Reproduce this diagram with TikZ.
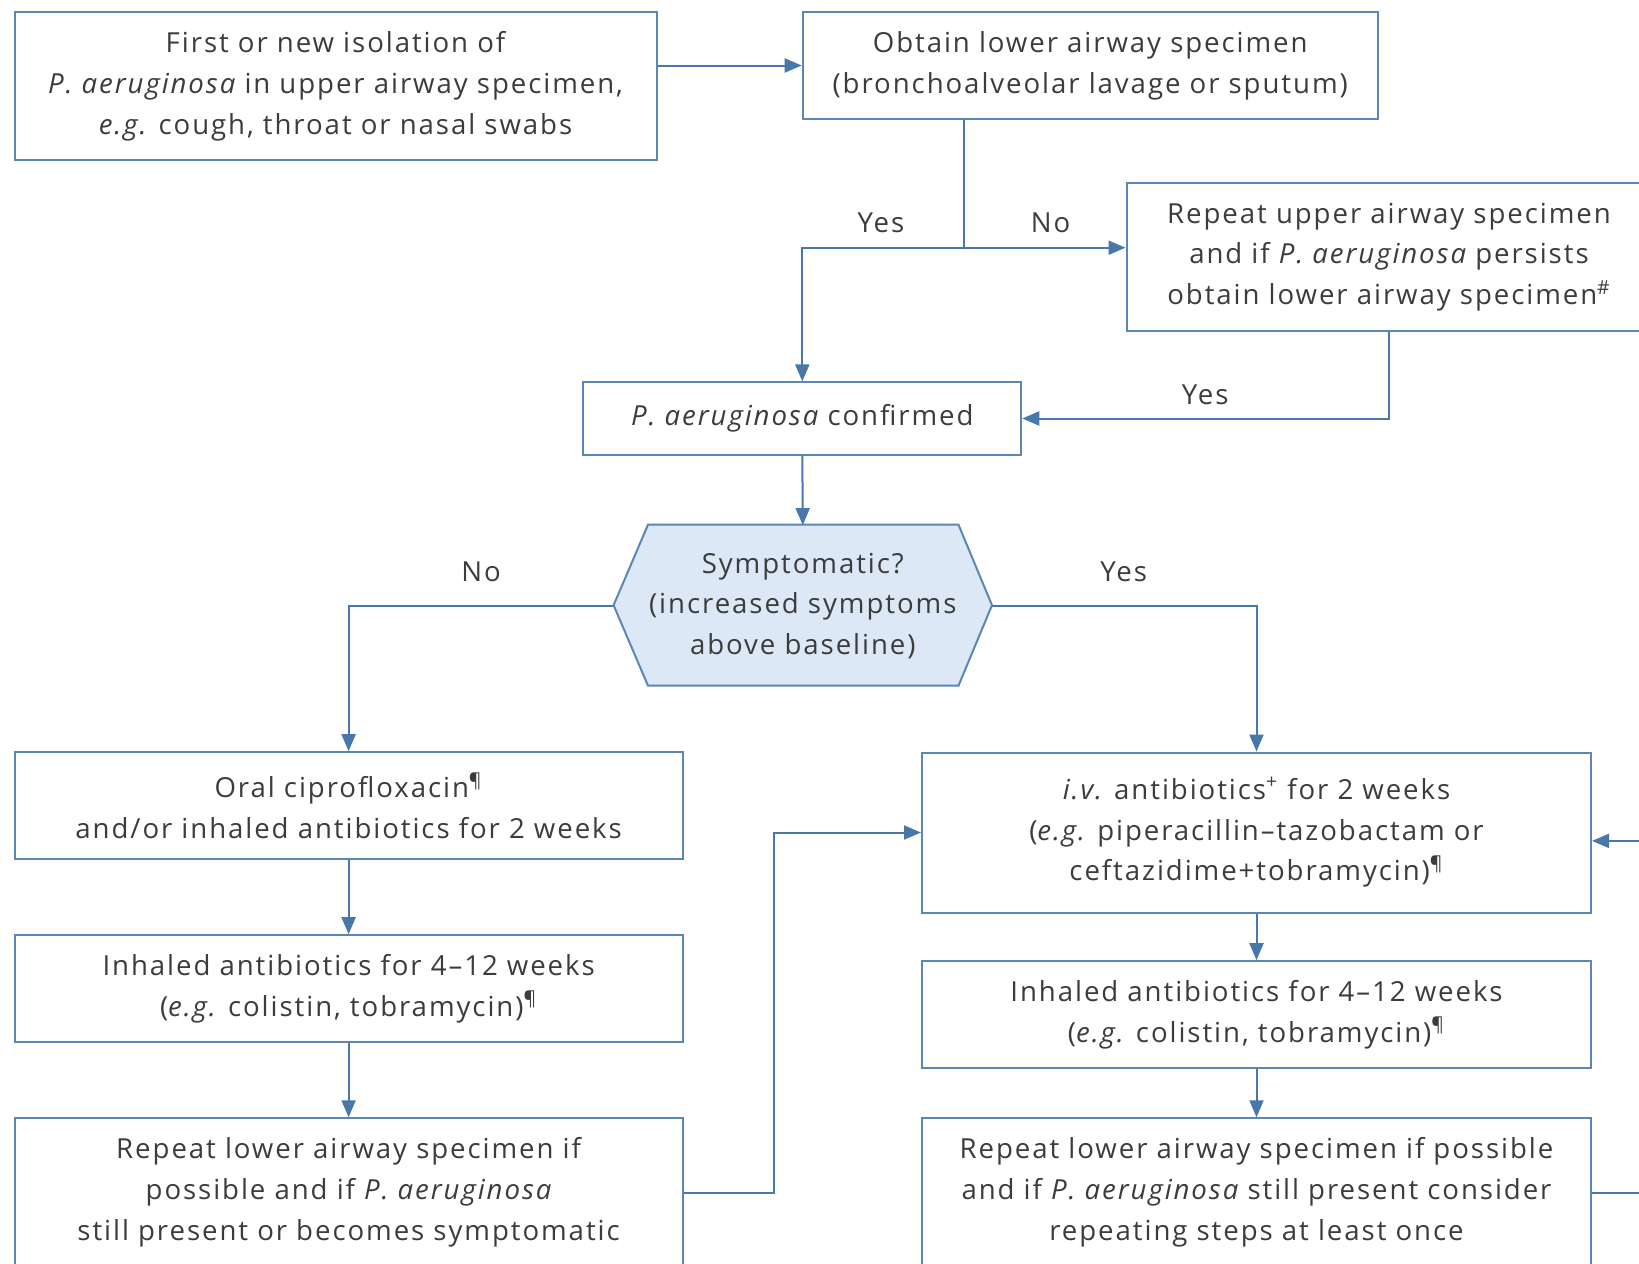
\documentclass[tikz,border=0pt]{standalone}
\usepackage{fontspec}
\setmainfont{Open Sans}[LetterSpace=7]
\usetikzlibrary{positioning,arrows.meta}

\definecolor{flowline}{RGB}{72,120,170}
\definecolor{boxline}{RGB}{92,135,180}
\definecolor{hexfill}{RGB}{220,232,245}
\definecolor{textgrey}{RGB}{60,60,60}

\newcommand{\pa}{{\itshape P. aeruginosa}}
\newcommand{\eg}{{\itshape e.g.}}

\begin{document}
\begin{tikzpicture}[x=0.5pt,y=-0.5pt,
  font=\fontsize{13.8}{20.4}\selectfont, text=textgrey,
  box/.style={draw=boxline, line width=1pt, fill=white, align=center, inner sep=0pt},
  lbl/.style={inner sep=1pt},
  link/.style={draw=flowline, line width=1pt},
  arr/.style={link, -{Triangle[length=8.5pt,width=7pt]}}]
\useasboundingbox (0,0) rectangle (1639,1264);

% top row
\node[box, minimum width=321pt, minimum height=73.7pt] (first) at (335.5,86)
  {First or new isolation of\\ \pa{} in upper airway specimen,\\ \eg{} cough, throat or nasal swabs};
\node[box, minimum width=287.5pt, minimum height=53.3pt] (lower) at (1090.2,65.5)
  {Obtain lower airway specimen\\ (bronchoalveolar lavage or sputum)};
\node[box, minimum width=262.5pt, minimum height=74.2pt] (upper) at (1389,257)
  {Repeat upper airway specimen\\ and if \pa{} persists\\ obtain lower airway specimen\textsuperscript{\#}};

\node[box, minimum width=219pt, minimum height=36.1pt] (conf) at (802.3,418.5)
  {\pa{} confirmed};

% decision
\fill[hexfill, draw=boxline, line width=1pt] (648,524.7) -- (958.5,524.7) -- (992,605.2)
  -- (958.5,685.7) -- (648,685.7) -- (613.6,605.2) -- cycle;
\node[align=center, inner sep=0pt, minimum width=189.2pt, minimum height=80.5pt] (sym) at (802.8,606)
  {Symptomatic?\\ (increased symptoms\\ above baseline)};

% left column
\node[box, minimum width=334pt, minimum height=53.3pt] (oral) at (348.6,805.5)
  {Oral ciprofloxacin\textsuperscript{¶}\\ and/or inhaled antibiotics for 2 weeks};
\node[box, minimum width=334pt, minimum height=53.3pt] (inhL) at (348.6,988.5)
  {Inhaled antibiotics for 4–12 weeks\\ (\eg{} colistin, tobramycin)\textsuperscript{¶}};
\node[box, minimum width=334pt, minimum height=74.2pt] (repL) at (348.6,1192.5)
  {Repeat lower airway specimen if\\ possible and if \pa{}\\ still present or becomes symptomatic};

% right column
\node[box, minimum width=334.5pt, minimum height=80pt] (iv) at (1256.5,832.5)
  {{\itshape i.v.} antibiotics\textsuperscript{+} for 2 weeks\\ (\eg{} piperacillin–tazobactam or\\ ceftazidime+tobramycin)\textsuperscript{¶}};
\node[box, minimum width=334.5pt, minimum height=53.3pt] (inhR) at (1256.5,1014.5)
  {Inhaled antibiotics for 4–12 weeks\\ (\eg{} colistin, tobramycin)\textsuperscript{¶}};
\node[box, minimum width=334.5pt, minimum height=74.2pt] (repR) at (1256.5,1192.5)
  {Repeat lower airway specimen if possible\\ and if \pa{} still present consider\\ repeating steps at least once};

\coordinate (split) at (963.8,247.7);
\coordinate (turn) at (773.5,1000);
\coordinate (loop) at (1680,1000);

\node[lbl] (yes1) at (881,222.5) {Yes};
\node[lbl] (no1) at (1050.5,222.5) {No};
\node[lbl] (yes2) at (1205.2,395) {Yes};
\node[lbl] (no2) at (481,571.5) {No};
\node[lbl] (yes3) at (1123.7,571.5) {Yes};

\draw[arr] (first.east |- lower.west) -- (lower.west);
\draw[link] (lower.south -| split) -- (split);
\draw[arr] (split) -- (upper.west |- split);
\draw[arr] (split) -| (conf.north);
\draw[arr] (upper.south) |- (conf.east);
\draw[arr] (conf.south) -- (sym.north);

\draw[arr] (sym.west) -| (oral.north);
\draw[arr] (sym.east) -| (iv.north);

\draw[arr] (oral) -- (inhL);
\draw[arr] (inhL) -- (repL);
\draw[arr] (iv) -- (inhR);
\draw[arr] (inhR) -- (repR);

\draw[arr] (repL.east) -| (turn) |- (iv.west);
\draw[arr] (repR.east) -| (loop) |- ([yshift=-4.2pt]iv.east);
\end{tikzpicture}
\end{document}
